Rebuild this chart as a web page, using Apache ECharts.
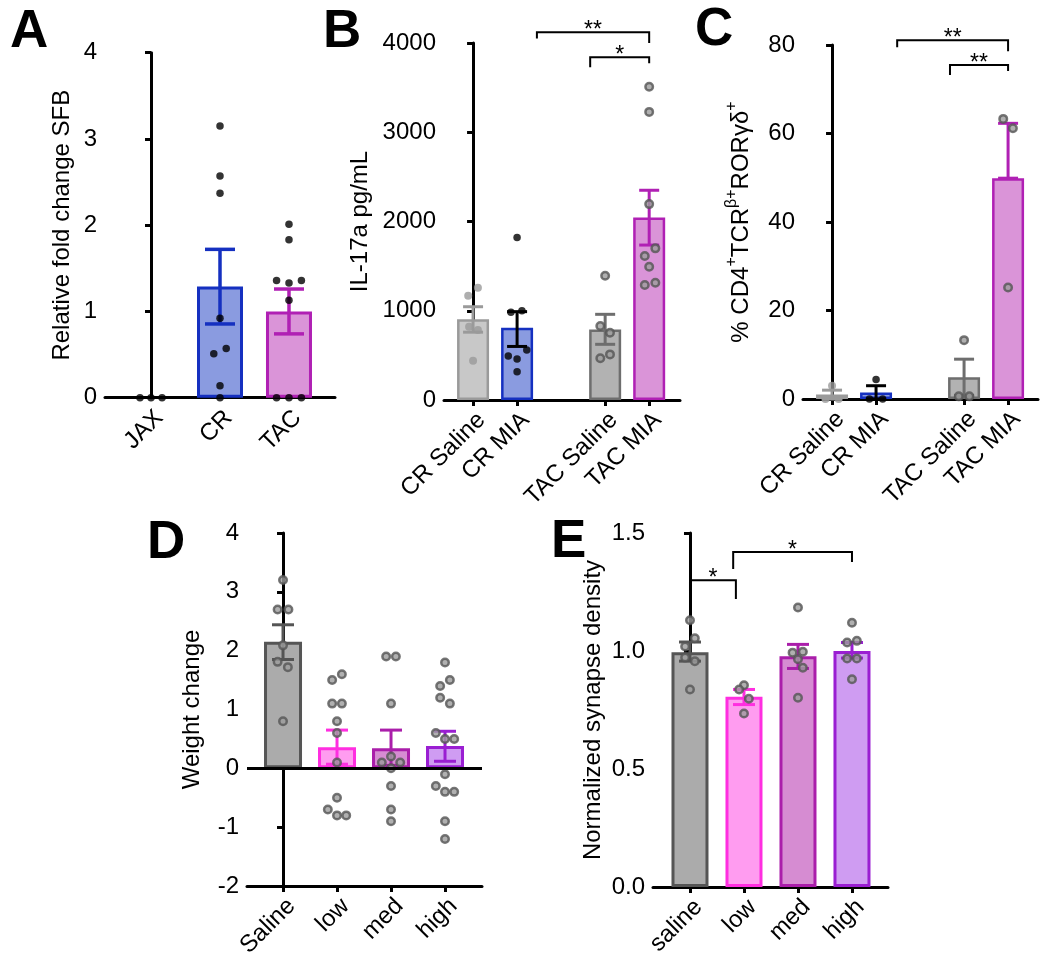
<!DOCTYPE html>
<html>
<head>
<meta charset="utf-8">
<script src="https://cdn.jsdelivr.net/npm/echarts@6/dist/echarts.min.js"></script>
<style>
html, body { margin: 0; padding: 0; background: #fff; }
#main { width: 1050px; height: 964px; }
</style>
</head>
<body>
<div id="main"></div>
<script>
// ---------- data ----------
// A: relative fold change SFB
var aCats = ['JAX', 'CR', 'TAC'];
var aPos = [0, 1, 2];
var aMean = [null, 1.29, 1.0];
var aLow = [null, 0.855, 0.74];
var aHigh = [null, 1.72, 1.26];
var aJAX = [0, 0, 0];
var aCR = [3.15, 2.57, 2.37, 0.92, 0.57, 0.51, 0.14, 0];
var aTAC = [2.01, 1.83, 1.36, 1.33, 1.36, 1.13, 0, 0, 0];

// B: IL-17a pg/mL
var bCats = ['CR Saline', 'CR MIA', 'TAC Saline', 'TAC MIA'];
var bPos = [0, 1, 3, 4];
var bMean = [904, 810, 791, 2046];
var bLow = [760, 600, 624, 1736];
var bHigh = [1045, 990, 960, 2350];
var bCRSaline = [1258, 1168, 821, 784, 440];
var bCRMIA = [1822, 1000, 982, 560, 493, 459, 317];
var bTACSaline = [1392, 829, 754, 511, 467];
var bTACMIA = [3509, 3228, 2195, 1699, 1613, 1493, 1314, 1288];
var bBrackets = [[1.45, 4, 4120, 4050, 4000], [2.66, 4, 3841, 3729, 3774]];
var bStars = ['**', '*'];

// C: % CD4+TCRb+RORgd+
var cCats = ['CR Saline', 'CR MIA', 'TAC Saline', 'TAC MIA'];
var cPos = [0, 1, 3, 4];
var cMean = [1.0, 1.45, 4.9, 49.9];
var cLow = [0, 0, 0.8, 49.9];
var cHigh = [2.0, 3.0, 9.0, 62.3];
var cCRSaline = [3.0, 0, 0];
var cCRMIA = [4.4, 0, 0];
var cTACSaline = [13.3, 0.6, 0.6];
var cTACMIA = [63.3, 61.2, 25.2];
var cBrackets = [[1.48, 4, 81.1, 79.5, 78.6], [2.68, 4, 75.5, 73.2, 74.1]];
var cStars = ['**', '**'];

// D: weight change
var dCats = ['Saline', 'low', 'med', 'high'];
var dPos = [0, 1, 2, 3];
var dMean = [2.15, 0.36, 0.34, 0.38];
var dLow = [1.85, 0.07, 0.05, 0.12];
var dHigh = [2.44, 0.65, 0.65, 0.63];
var dSaline = [3.2, 2.7, 2.7, 2.09, 1.81, 1.72, 0.8];
var dLowDose = [1.6, 1.5, 1.1, 1.1, 0.8, 0.6, 0.1, -0.5, -0.7, -0.8, -0.8];
var dMedDose = [1.9, 1.9, 1.1, 0.2, 0.1, 0.1, 0.0, -0.3, -0.7, -0.9];
var dHighDose = [1.8, 1.5, 1.4, 1.2, 1.1, 0.6, 0.5, 0.5, -0.1, -0.3, -0.4, -0.4, -0.9, -1.2];

// E: normalized synapse density
var eCats = ['saline', 'low', 'med', 'high'];
var ePos = [0, 1, 2, 3];
var eMean = [0.995, 0.806, 0.978, 1.0];
var eLow = [0.957, 0.773, 0.926, 0.97];
var eHigh = [1.038, 0.837, 1.028, 1.036];
var eSaline = [1.13, 1.054, 1.019, 0.972, 0.957, 0.837];
var eLowDose = [0.855, 0.837, 0.798, 0.735];
var eMedDose = [1.184, 0.993, 0.997, 0.965, 0.929, 0.802];
var eHighDose = [1.12, 1.036, 1.043, 0.968, 0.968, 0.88];
var eBrackets = [[0, 0.85, 1.30, 1.254, 1.22], [0.8, 3, 1.42, 1.347, 1.377]];
var eStars = ['*', '*'];

// horizontal scatter of the dots inside each group (x units)
var aJit = [[-0.16, 0, 0.16], [0, 0, 0, 0, 0.09, -0.09, 0, 0], [0, 0, -0.18, 0, 0.18, 0, -0.18, 0, 0.18]];
var bJit = [[0.11, -0.11, -0.09, 0.11, 0], [0, 0.11, -0.14, 0.22, -0.2, 0, 0], [0, -0.11, 0.11, 0.11, -0.11], [0, 0, 0, 0.14, -0.1, 0, 0.14, -0.1]];
var cJit = [[0, -0.15, 0.15], [0, -0.15, 0.15], [0, -0.12, 0.12], [-0.11, 0.11, 0]];
var dJit = [[0, -0.1, 0.1, 0, -0.1, 0.09, 0],
  [0.09, -0.09, -0.09, 0.09, 0, 0, 0, 0, -0.17, 0, 0.17],
  [-0.09, 0.09, 0, 0, -0.17, 0.17, 0, 0, 0, 0],
  [0, 0.09, -0.09, -0.09, 0.09, -0.17, 0, 0.17, 0, -0.17, 0, 0.17, 0, 0]];
var eJit = [[0, 0.09, -0.09, -0.09, 0.09, 0], [0, -0.09, 0.09, 0], [0, -0.1, 0.09, 0, 0.09, 0], [0, -0.09, 0.09, -0.09, 0.09, 0]];

// ---------- styles ----------
var FONT = 'Liberation Sans, Arial, Helvetica, sans-serif';
var FS = 24;
var BLUE = {fill: '#8a9be0', line: '#1530c0'};
var TACP = {fill: '#da94d8', line: '#b020b4'};
var LGRAY = {fill: '#c8c8c8', line: '#9a9a9a'};
var MGRAY = {fill: '#b2b2b2', line: '#6e6e6e'};
var DGRAY = {fill: '#ababab', line: '#555555'};
var LOWC = {fill: '#ff9cf0', line: '#ff2ee0'};
var MEDC = {fill: '#d68cd2', line: '#aa1eaa'};
var HIGHC = {fill: '#cf9cf2', line: '#9a1ed2'};

var blackDot = {style: {color: '#000'}, size: 7.5};
var grayDot = {style: {color: '#9a9a9a'}, size: 8};
var ringDot = {style: {color: '#9c9c9c', borderColor: '#555', borderWidth: 2.5}, size: 7.5};

var panels = [
  {cats: aCats, pos: aPos, mean: aMean, low: aLow, high: aHigh, pts: [aJAX, aCR, aTAC], jit: aJit,
   cols: [null, BLUE, TACP], errCols: [null, BLUE.line, TACP.line], dots: [blackDot, blackDot, blackDot],
   grid: {left: 105, top: 52.7, width: 230, height: 345}, xMin: -0.667, xMax: 2.667,
   yMin: 0, yMax: 4, yInt: 1, name: 'Relative fold change SFB', gap: 31, barW: 46, bw: 3, cap: 30, elw: 3.5, xTicks: false},
  {cats: bCats, pos: bPos, mean: bMean, low: bLow, high: bHigh, pts: [bCRSaline, bCRMIA, bTACSaline, bTACMIA], jit: bJit,
   cols: [LGRAY, BLUE, MGRAY, TACP], errCols: [LGRAY.line, '#000', MGRAY.line, TACP.line], dots: [grayDot, blackDot, ringDot, ringDot],
   grid: {left: 444, top: 43, width: 236, height: 357}, xMin: -0.66, xMax: 4.7,
   yMin: 0, yMax: 4000, yInt: 1000, name: 'IL-17a pg/mL', gap: 72, barW: 32, bw: 2.5, cap: 20, elw: 3, xTicks: true,
   brackets: bBrackets, stars: bStars},
  {cats: cCats, pos: cPos, mean: cMean, low: cLow, high: cHigh, pts: [cCRSaline, cCRMIA, cTACSaline, cTACMIA], jit: cJit,
   cols: [LGRAY, BLUE, MGRAY, TACP], errCols: [LGRAY.line, '#000', MGRAY.line, TACP.line], dots: [grayDot, blackDot, ringDot, ringDot],
   grid: {left: 803, top: 45, width: 235, height: 354}, xMin: -0.66, xMax: 4.68,
   yMin: 0, yMax: 80, yInt: 20, name: '% CD4{s|+}TCR{s|β+}RORγδ{s|+}', gap: 45, lh: 34, barW: 32, bw: 2.5, cap: 20, elw: 3, xTicks: true,
   brackets: cBrackets, stars: cStars},
  {cats: dCats, pos: dPos, mean: dMean, low: dLow, high: dHigh, pts: [dSaline, dLowDose, dMedDose, dHighDose], jit: dJit,
   cols: [DGRAY, LOWC, MEDC, HIGHC], errCols: [DGRAY.line, LOWC.line, MEDC.line, HIGHC.line], dots: [ringDot, ringDot, ringDot, ringDot],
   grid: {left: 247, top: 533, width: 235, height: 353}, xMin: -0.667, xMax: 3.685,
   yMin: -2, yMax: 4, yInt: 1, name: 'Weight change', gap: 43, barW: 38, bw: 3, cap: 22, elw: 3, xTicks: true, zeroLine: true},
  {cats: eCats, pos: ePos, mean: eMean, low: eLow, high: eHigh, pts: [eSaline, eLowDose, eMedDose, eHighDose], jit: eJit,
   cols: [DGRAY, LOWC, MEDC, HIGHC], errCols: [DGRAY.line, LOWC.line, MEDC.line, HIGHC.line], dots: [ringDot, ringDot, ringDot, ringDot],
   grid: {left: 653, top: 533, width: 235, height: 354}, xMin: -0.685, xMax: 3.667,
   yMin: 0, yMax: 1.5, yInt: 0.5, name: 'Normalized synapse density', gap: 48, barW: 37, bw: 3, cap: 22, elw: 3, xTicks: true,
   brackets: eBrackets, stars: eStars, fixed: 1}
];

var grids = [], xAxes = [], yAxes = [], series = [];

panels.forEach(function (p, k) {
  grids.push(p.grid);
  xAxes.push({
    type: 'value', gridIndex: k, min: p.xMin, max: p.xMax,
    splitLine: {show: false},
    axisLine: {onZero: !p.zeroLine, lineStyle: {color: '#000', width: 3}},
    axisTick: {show: p.xTicks, customValues: p.pos, length: 6, lineStyle: {color: '#000', width: 3}},
    axisLabel: {
      customValues: p.pos, rotate: 45, margin: 8, verticalAlign: 'top',
      fontSize: FS, color: '#000', fontFamily: FONT,
      formatter: function (v) { var i = p.pos.indexOf(v); return i >= 0 ? p.cats[i] : ''; }
    }
  });
  var nts = {fontSize: FS, color: '#000', fontFamily: FONT};
  if (p.lh) {
    nts.lineHeight = p.lh;
    nts.rich = {s: {fontSize: 16, lineHeight: 17, verticalAlign: 'top', fontFamily: FONT, color: '#000'}};
  }
  yAxes.push({
    type: 'value', gridIndex: k, min: p.yMin, max: p.yMax, interval: p.yInt,
    splitLine: {show: false},
    axisLine: {show: true, lineStyle: {color: '#000', width: 3}},
    axisTick: {show: true, length: 6, lineStyle: {color: '#000', width: 3}},
    axisLabel: {
      margin: 8, fontSize: FS, color: '#000', fontFamily: FONT,
      formatter: function (v) { return p.fixed ? v.toFixed(p.fixed) : String(v); }
    },
    name: p.name, nameLocation: 'middle', nameGap: p.gap, nameTextStyle: nts
  });

  // bars
  var barData = [];
  p.pos.forEach(function (x, i) {
    if (p.mean[i] == null) return;
    barData.push({value: [x, p.mean[i]], itemStyle: {color: p.cols[i].fill, borderColor: p.cols[i].line, borderWidth: p.bw}});
  });
  var bar = {type: 'bar', xAxisIndex: k, yAxisIndex: k, barWidth: p.barW, data: barData, z: 2, silent: true};
  if (p.zeroLine) {
    bar.markLine = {silent: true, symbol: 'none', label: {show: false},
      lineStyle: {color: '#000', width: 3, type: 'solid'}, data: [{yAxis: 0}]};
  }
  series.push(bar);

  // error bars
  var errData = [];
  p.pos.forEach(function (x, i) {
    if (p.mean[i] == null) return;
    errData.push({value: [x, p.low[i], p.high[i]], col: p.errCols[i]});
  });
  series.push({
    type: 'custom', xAxisIndex: k, yAxisIndex: k, z: 3, silent: true,
    encode: {x: 0, y: [1, 2]}, data: errData.map(function (d) { return d.value; }),
    renderItem: function (params, api) {
      var x = api.value(0);
      var lo = api.coord([x, api.value(1)]), hi = api.coord([x, api.value(2)]);
      var st = {stroke: errData[params.dataIndex].col, lineWidth: p.elw};
      var h = p.cap / 2;
      return {type: 'group', children: [
        {type: 'line', shape: {x1: lo[0], y1: lo[1], x2: hi[0], y2: hi[1]}, style: st},
        {type: 'line', shape: {x1: hi[0] - h, y1: hi[1], x2: hi[0] + h, y2: hi[1]}, style: st},
        {type: 'line', shape: {x1: lo[0] - h, y1: lo[1], x2: lo[0] + h, y2: lo[1]}, style: st}
      ]};
    }
  });

  // individual points
  var dotData = [];
  p.pts.forEach(function (vals, g) {
    vals.forEach(function (v, i) {
      dotData.push({value: [p.pos[g] + p.jit[g][i], v], itemStyle: p.dots[g].style, symbolSize: p.dots[g].size});
    });
  });
  series.push({type: 'scatter', xAxisIndex: k, yAxisIndex: k, z: 4, silent: true, data: dotData});

  // significance brackets
  if (p.brackets) {
    series.push({
      type: 'custom', xAxisIndex: k, yAxisIndex: k, z: 5, silent: true, clip: false,
      encode: {x: [0, 1], y: [2, 3, 4]}, data: p.brackets,
      renderItem: function (params, api) {
        var x1 = api.value(0), x2 = api.value(1), yt = api.value(2);
        var a = api.coord([x1, api.value(3)]), b = api.coord([x1, yt]);
        var c = api.coord([x2, yt]), d = api.coord([x2, api.value(4)]);
        return {type: 'group', children: [
          {type: 'polyline', shape: {points: [a, b, c, d]}, style: {stroke: '#000', lineWidth: 2, fill: null}},
          {type: 'text', style: {text: p.stars[params.dataIndex], x: (b[0] + c[0]) / 2, y: b[1] + 10,
            align: 'center', verticalAlign: 'bottom', font: '23px ' + FONT, fill: '#000'}}
        ]};
      }
    });
  }
});

var letters = [['A', 10, 12], ['B', 323, 12], ['C', 695, 10], ['D', 147, 523], ['E', 551, 522]];

var chart = echarts.init(document.getElementById('main'));
chart.setOption({
  animation: false,
  backgroundColor: '#fff',
  textStyle: {fontFamily: FONT},
  grid: grids,
  xAxis: xAxes,
  yAxis: yAxes,
  series: series,
  graphic: letters.map(function (l) {
    return {type: 'text', left: l[1], top: l[2] - 6,
      style: {text: l[0], font: 'bold 53px ' + FONT, fill: '#000'}};
  })
});
</script>
</body>
</html>
